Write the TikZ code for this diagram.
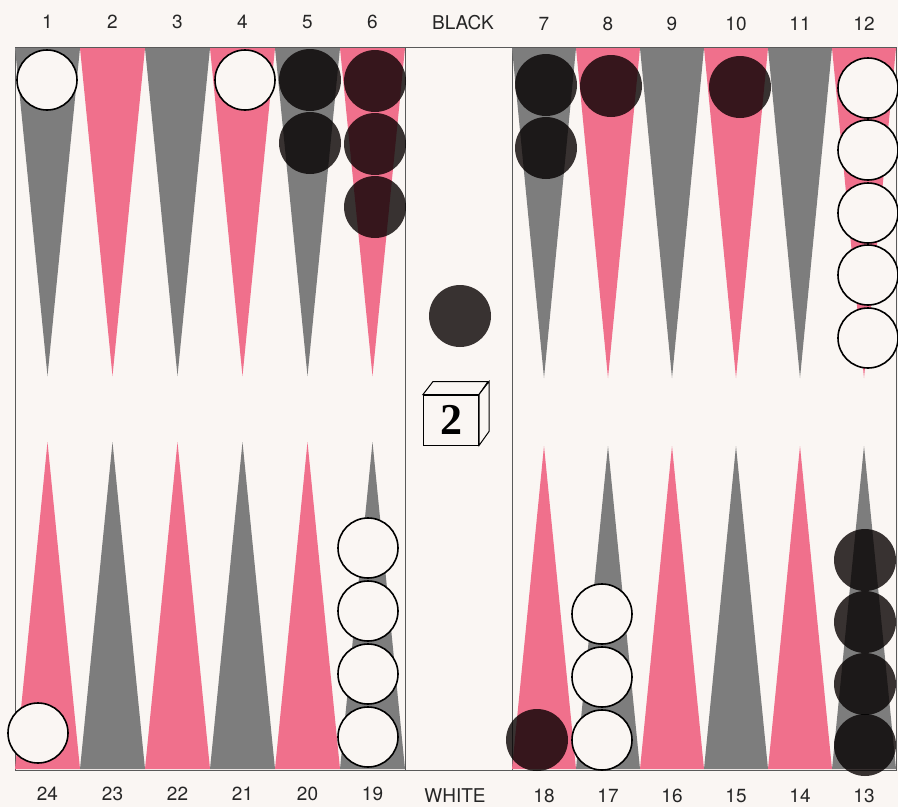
\documentclass[tikz,border=0pt]{standalone}
\usepackage{fontspec}
\setmainfont{TeX Gyre Heros}
\newfontfamily\diefont{Liberation Serif}
\usepackage{tikz}
\usetikzlibrary{calc}

\definecolor{boardbg}{RGB}{250,246,243}
\definecolor{pinkpt}{RGB}{240,112,140}
\definecolor{graypt}{RGB}{125,125,125}
\definecolor{darkchk}{RGB}{58,52,52}

\tikzset{
  pinkp/.style={fill=pinkpt, draw=none},
  grayp/.style={fill=graypt, draw=none},
  wchk/.style={circle, draw=black, line width=1.6pt, fill=boardbg, minimum size=60pt, inner sep=0pt},
  bchk/.style={circle, draw=none, fill=darkchk, blend mode=multiply, minimum size=62pt, inner sep=0pt},
  num/.style={font=\fontsize{19}{21}\selectfont, text=black!85},
}

\begin{document}
\begin{tikzpicture}[x=1pt, y=-1pt]
        \fill[boardbg] (0,0) rectangle (898,807);
        \useasboundingbox (0,0) rectangle (898,807);
        % board frame and bar
        \draw[gray!70!black, line width=0.8pt] (15,47) rectangle (896,770);
        \draw[gray!70!black, line width=0.8pt] (405,47) -- (405,770);
        \draw[gray!70!black, line width=0.8pt] (512,47) -- (512,770);

        % top points
        \foreach \i/\c in {1/grayp,2/pinkp,3/grayp,4/pinkp,5/grayp,6/pinkp}
            \fill[\c] ({15+65*(\i-1)},48) -- ({15+65*\i},48) -- ({15+65*(\i-0.5)},376) -- cycle;
        \foreach \i/\c in {7/grayp,8/pinkp,9/grayp,10/pinkp,11/grayp,12/pinkp}
            \fill[\c] ({512+64*(\i-7)},48) -- ({512+64*(\i-6)},48) -- ({512+64*(\i-6.5)},378) -- cycle;
        % bottom points
        \foreach \i/\c in {24/pinkp,23/grayp,22/pinkp,21/grayp,20/pinkp,19/grayp}
            \fill[\c] ({15+65*(24-\i)},769) -- ({15+65*(25-\i)},769) -- ({15+65*(24.5-\i)},442) -- cycle;
        \foreach \i/\c in {18/pinkp,17/grayp,16/pinkp,15/grayp,14/pinkp,13/grayp}
            \fill[\c] ({512+64*(18-\i)},769) -- ({512+64*(19-\i)},769) -- ({512+64*(18.5-\i)},446) -- cycle;

        % point numbers
        \foreach \i in {1,...,6}
            \node[num] (n\i) at ({15+65*(\i-0.5)},22) {\i};
        \foreach \i in {7,...,12}
            \node[num] (n\i) at ({512+64*(\i-6.5)},24) {\i};
        \foreach \i in {24,23,...,19}
            \node[num] (n\i) at ({15+65*(24.5-\i)},794) {\i};
        \foreach \i in {18,17,...,13}
            \node[num] (n\i) at ({512+64*(18.5-\i)},796) {\i};
        \node[num] (black) at (463,23) {BLACK};
        \node[num] (white) at (455,796) {WHITE};

        % checkers, top
        \node[wchk] (w1a) at (47,80) {};
        \node[wchk] (w4a) at (245,80) {};
        \node[bchk] (b5a) at (310,80) {};
        \node[bchk] (b5b) at (310,143) {};
        \node[bchk] (b6a) at (375,81) {};
        \node[bchk] (b6b) at (375,144) {};
        \node[bchk] (b6c) at (375,207) {};
        \node[bchk] (b7a) at (546,85) {};
        \node[bchk] (b7b) at (546,148) {};
        \node[bchk] (b8a) at (611,86) {};
        \node[bchk] (b10a) at (740,87) {};
        \node[wchk] (w12a) at (868,88) {};
        \node[wchk] (w12b) at (868,150) {};
        \node[wchk] (w12c) at (868,213) {};
        \node[wchk] (w12d) at (868,275) {};
        \node[wchk] (w12e) at (868,338) {};

        % checkers, bottom
        \node[wchk] (w24a) at (38,733) {};
        \node[wchk] (w19a) at (368,737) {};
        \node[wchk] (w19b) at (368,674) {};
        \node[wchk] (w19c) at (368,611) {};
        \node[wchk] (w19d) at (368,548) {};
        \node[bchk] (b18a) at (537,740) {};
        \node[wchk] (w17a) at (602,740) {};
        \node[wchk] (w17b) at (602,677) {};
        \node[wchk] (w17c) at (602,614) {};
        \node[bchk] (b13a) at (865,745) {};
        \node[bchk] (b13b) at (865,684) {};
        \node[bchk] (b13c) at (865,622) {};
        \node[bchk] (b13d) at (865,560) {};

        % bar checker and die
        \node[bchk] (bbar) at (460,316) {};
        \node[draw=black, line width=1pt, fill=boardbg, minimum width=55pt, minimum height=50pt, inner sep=0pt,
              font=\diefont\bfseries\fontsize{44}{44}\selectfont] (die) at (451,420) {2};
        \draw[line width=1pt, fill=boardbg] (die.north west) -- ++(10,-13) -- ++(55,0) -- (die.north east) -- cycle;
        \draw[line width=1pt, fill=boardbg] (die.north east) -- ++(10,-13) -- ++(0,50) -- (die.south east) -- cycle;
    \end{tikzpicture}
\end{document}
